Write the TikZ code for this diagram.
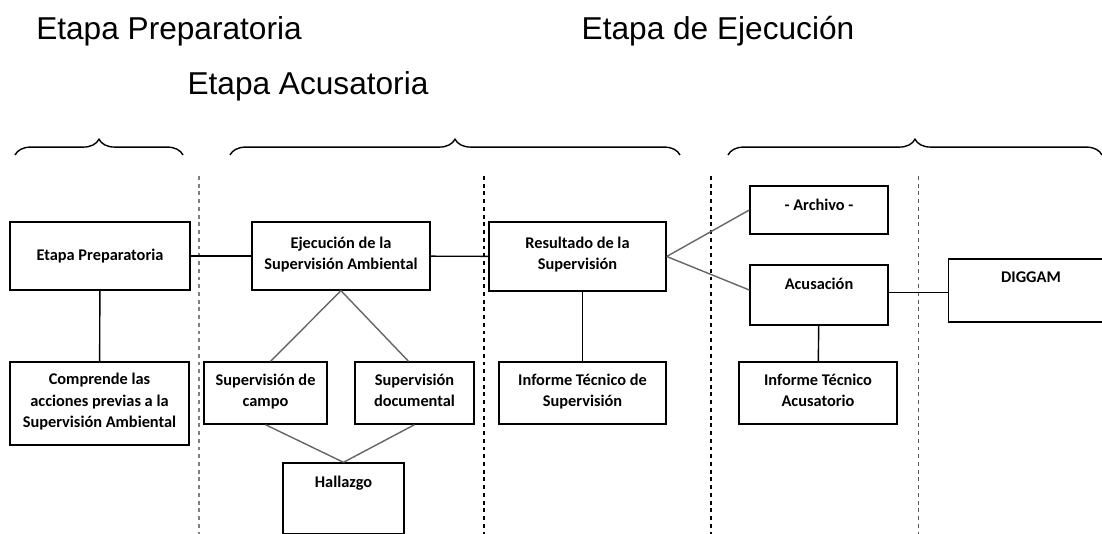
\documentclass[tikz,border=0pt]{standalone}
\usepackage{fontspec}
\setmainfont{Carlito}
\newfontfamily\titlefont{Liberation Sans}
\usetikzlibrary{decorations.pathreplacing}

\tikzset{
    stagebox/.style={draw, thick, rectangle, align=center, inner sep=2pt,
        font=\bfseries\fontsize{9.3}{12}\selectfont,
        execute at begin node={\strut}, execute at end node={\strut}},
    toptext/.style={align=center, font=\bfseries\fontsize{9.3}{12}\selectfont},
    stagetitle/.style={font=\titlefont\fontsize{18}{22}\selectfont},
    stagebrace/.style={decorate, decoration={brace, amplitude=9pt}, thick},
    divider/.style={dash pattern=on 2.2pt off 2.2pt, thick},
    link/.style={thick},
    branch/.style={thick, gray!80!black}
}

\begin{document}
\begin{tikzpicture}[x=0.02cm, y=-0.02cm]
        % Fix the canvas to the reference size
        \useasboundingbox (0,0) rectangle (1102,534);

        % Stage titles
        \node[stagetitle] (tprep) at (169,31) {Etapa Preparatoria};
        \node[stagetitle] (tejec) at (718,31) {Etapa de Ejecución};
        \node[stagetitle] (tacus) at (308,86) {Etapa Acusatoria};

        % Braces over each stage
        \draw[stagebrace] (15,155) -- (183,155);
        \draw[stagebrace] (230,155) -- (680,155);
        \draw[stagebrace] (728,155) -- (1102,155);

        % Dashed dividers
        \draw[divider, gray] (199,176) -- (199,534);
        \draw[divider] (484,176) -- (484,534);
        \draw[divider] (711,176) -- (711,534);
        \draw[divider, gray!70!black, thin] (918,176) -- (918,534);

        % Boxes of the first row
        \node[stagebox, minimum width=3.6cm, minimum height=1.36cm] (prep) at (100,256) {Etapa Preparatoria};
        \node[stagebox, minimum width=3.56cm, minimum height=1.36cm] (ejec) at (341,256) {Ejecución de la\\Supervisión Ambiental};
        \node[stagebox, minimum width=3.54cm, minimum height=1.38cm] (res) at (577.5,256.5) {Resultado de la\\Supervisión};

        % Boxes of the second row
        \node[stagebox, minimum width=3.58cm, minimum height=1.66cm] (comp) at (99.5,403.5) {Comprende las\\acciones previas a la\\Supervisión Ambiental};
        \node[stagebox, minimum width=2.46cm, minimum height=1.24cm] (campo) at (265.5,393) {Supervisión de\\campo};
        \node[stagebox, minimum width=2.38cm, minimum height=1.24cm] (docu) at (414.5,393) {Supervisión\\documental};
        \node[stagebox, minimum width=3.34cm, minimum height=1.24cm] (inf) at (582.5,393) {Informe Técnico de\\Supervisión};
        \node[stagebox, minimum width=3.16cm, minimum height=1.24cm] (infa) at (818,393) {Informe Técnico\\Acusatorio};

        % Boxes with the text at the top
        \node[stagebox, minimum width=2.42cm, minimum height=1.42cm] (hall) at (343.5,498.5) {};
        \node[toptext, below=4pt] (hallt) at (hall.north) {Hallazgo};
        \node[stagebox, minimum width=2.76cm, minimum height=0.96cm] (arch) at (819,210) {};
        \node[toptext, below=4pt] (archt) at (arch.north) {- Archivo -};
        \node[stagebox, minimum width=2.76cm, minimum height=1.2cm] (acus) at (819,295) {};
        \node[toptext, below=4pt] (acust) at (acus.north) {Acusación};
        \node[stagebox, minimum width=3.3cm, minimum height=1.26cm] (dig) at (1031,290.5) {};
        \node[toptext, below=4pt] (digt) at (dig.north) {DIGGAM};

        % Connectors
        \draw[link] (prep) -- (ejec);
        \draw[link] (ejec) -- (res);
        \draw[link] (prep) -- (comp);
        \draw[link] (res.south -| inf.north) -- (inf.north);
        \draw[link] (acus) -- (infa);
        \draw[link] ([yshift=0.05cm]acus.east) -- ([yshift=0.05cm]dig.west |- acus.east);

        \draw[branch] (ejec.south) -- ([xshift=0.1cm]campo.north);
        \draw[branch] (ejec.south) -- ([xshift=-0.12cm]docu.north);
        \draw[branch] (campo.south) -- (hall.north);
        \draw[branch] (docu.south) -- (hall.north);
        \draw[branch] (res.east) -- (arch.west);
        \draw[branch] (res.east) -- ([yshift=0.1cm]acus.west);

    \end{tikzpicture}
\end{document}
